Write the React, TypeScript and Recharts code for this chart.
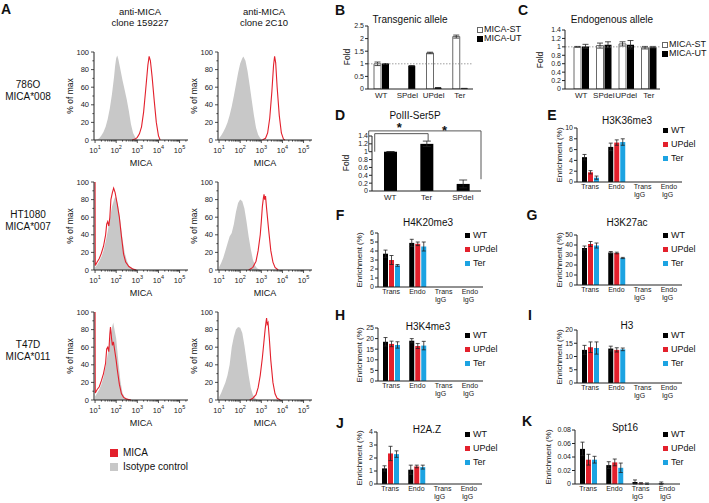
import React from 'react';
import {
  BarChart, ComposedChart, Bar, XAxis, YAxis, ErrorBar, Area, Line,
  ReferenceLine, ReferenceDot,
} from 'recharts';

const FONT = 'Arial, "Liberation Sans", Helvetica, sans-serif';
const RED = '#e3202c';
const BLUE = '#1ca3e2';
const GRAY = '#c8c8c8';

// ---------------- Panel A: flow histograms (x = log10 intensity, y = % of max) ----------------
const histoColumnTitles = [['anti-MICA', 'clone 159227'], ['anti-MICA', 'clone 2C10']];
const histoRowLabels = [['786O', 'MICA*008'], ['HT1080', 'MICA*007'], ['T47D', 'MICA*011']];
const histoLegend = ['MICA', 'Isotype control'];

const iso786O_159227 = [[1.0,0],[1.1,0.5],[1.2,2],[1.3,5],[1.4,9],[1.5,15],[1.6,24],[1.7,36],[1.8,52],[1.9,72],[1.95,84],[2.0,93],[2.05,96],[2.1,92],[2.2,80],[2.3,68],[2.4,57],[2.5,46],[2.6,33],[2.7,18],[2.8,8],[2.9,3],[3.0,0.5],[3.1,0]];
const mica786O_159227 = [[2.75,0],[2.9,1],[3.0,3],[3.1,7],[3.2,15],[3.3,32],[3.4,58],[3.5,85],[3.56,95],[3.62,90],[3.7,72],[3.8,45],[3.9,20],[4.0,5],[4.08,0]];
const iso786O_2C10 = [[1.0,2],[1.1,5],[1.2,9],[1.3,14],[1.4,20],[1.5,28],[1.6,38],[1.7,50],[1.8,63],[1.9,76],[2.0,87],[2.1,93],[2.15,95],[2.25,90],[2.35,78],[2.45,62],[2.55,45],[2.65,28],[2.75,14],[2.85,6],[2.95,2],[3.05,0]];
const mica786O_2C10 = [[3.05,0],[3.2,2],[3.3,8],[3.4,25],[3.5,55],[3.58,85],[3.63,95],[3.68,88],[3.75,60],[3.85,28],[3.95,8],[4.05,1],[4.12,0]];
const isoHT1080_159227 = [[1.0,3],[1.1,6],[1.2,10],[1.3,15],[1.4,22],[1.5,32],[1.6,44],[1.7,58],[1.8,72],[1.9,80],[1.95,83],[2.0,82],[2.1,72],[2.2,55],[2.3,35],[2.4,20],[2.5,11],[2.6,5],[2.8,1],[3.0,0]];
const micaHT1080_159227 = [[1.0,100],[1.01,5],[1.1,9],[1.2,13],[1.3,19],[1.4,27],[1.5,40],[1.55,52],[1.6,55],[1.65,50],[1.7,60],[1.75,80],[1.82,88],[1.88,93],[1.95,88],[2.05,75],[2.15,60],[2.25,38],[2.35,18],[2.45,9],[2.6,4],[2.8,1],[2.95,0]];
const isoHT1080_2C10 = [[1.0,3],[1.1,8],[1.2,14],[1.3,22],[1.4,30],[1.5,38],[1.6,42],[1.7,52],[1.8,66],[1.9,76],[2.0,80],[2.1,78],[2.2,70],[2.3,55],[2.4,38],[2.5,24],[2.6,12],[2.7,5],[2.8,2],[2.95,0]];
const micaHT1080_2C10 = [[2.4,0],[2.6,3],[2.75,10],[2.85,22],[2.95,40],[3.0,55],[3.05,72],[3.1,82],[3.13,86],[3.16,80],[3.2,84],[3.25,70],[3.35,45],[3.45,22],[3.55,9],[3.65,3],[3.8,0]];
const isoT47D_159227 = [[1.0,4],[1.1,8],[1.2,12],[1.3,18],[1.4,26],[1.5,38],[1.6,52],[1.7,68],[1.8,82],[1.86,88],[1.92,80],[2.0,70],[2.1,45],[2.2,22],[2.3,8],[2.4,3],[2.6,0.5],[2.8,0]];
const micaT47D_159227 = [[1.0,100],[1.01,8],[1.1,12],[1.2,15],[1.3,22],[1.4,30],[1.5,42],[1.55,58],[1.6,60],[1.65,55],[1.7,75],[1.73,83],[1.78,70],[1.82,62],[1.87,66],[1.92,58],[2.0,45],[2.05,35],[2.15,18],[2.25,7],[2.35,3],[2.5,1],[2.7,0]];
const isoT47D_2C10 = [[1.0,3],[1.1,8],[1.2,14],[1.3,20],[1.4,28],[1.5,40],[1.6,60],[1.7,72],[1.8,80],[1.9,83],[2.0,82],[2.1,76],[2.2,62],[2.3,45],[2.4,28],[2.5,14],[2.6,6],[2.7,2],[2.85,0]];
const micaT47D_2C10 = [[2.45,0],[2.6,2],[2.75,6],[2.85,14],[2.95,28],[3.05,48],[3.12,65],[3.18,80],[3.22,88],[3.25,93],[3.28,86],[3.32,88],[3.38,70],[3.45,45],[3.55,20],[3.65,7],[3.75,2],[3.9,0]];

const histoGrid = [
  [[iso786O_159227, mica786O_159227], [iso786O_2C10, mica786O_2C10]],
  [[isoHT1080_159227, micaHT1080_159227], [isoHT1080_2C10, micaHT1080_2C10]],
  [[isoT47D_159227, micaT47D_159227], [isoT47D_2C10, micaT47D_2C10]],
];
const pctTicks = [0, 10, 20, 30, 40, 50, 60, 70, 80, 90, 100];
const decades = [1, 2, 3, 4, 5];
const minorSteps = [2, 3, 4, 5, 6, 7, 8, 9];

// ---------------- Panel B / C / D ----------------
const alleleCats = ['WT', 'SPdel', 'UPdel', 'Ter'];
const alleleSeries = ['MICA-ST', 'MICA-UT'];
const transgenicST = [1.0, 0, 1.43, 2.08];
const transgenicSTErr = [0.07, 0, 0.03, 0.06];
const transgenicUT = [1.0, 0.92, 0.05, 0.02];
const transgenicUTErr = [0.01, 0.01, 0.005, 0.005];
const endogenousST = [1.0, 1.03, 1.07, 0.98];
const endogenousSTErr = [0.01, 0.06, 0.05, 0.03];
const endogenousUT = [1.01, 1.05, 1.05, 0.99];
const endogenousUTErr = [0.05, 0.07, 0.1, 0.02];
const foldTicksB = [0, 0.5, 1, 1.5, 2, 2.5];
const foldTicksC = [0, 0.2, 0.4, 0.6, 0.8, 1, 1.2, 1.4];

const polCats = ['WT', 'Ter', 'SPdel'];
const polVals = [1.0, 1.2, 0.18];
const polErr = [0.005, 0.07, 0.1];
// significance brackets in data units (x = category index, y = fold)
const polBracketInner = [[0.05, 1.0], [0.05, 1.46], [1.03, 1.46], [1.03, 1.27]];
const polBracketOuter = [[-0.06, 1.0], [-0.06, 1.53], [2.0, 1.53], [2.0, 0.3]];
const polStars = [[0.5, 1.62], [1.33, 1.56]];

// ---------------- ChIP panels E-K ----------------
const enrichCats = ['Trans', 'Endo', 'Trans IgG', 'Endo IgG'];
const enrichSeries = ['WT', 'UPdel', 'Ter'];
const enrichColors = ['#000000', RED, BLUE];

const h3k36me3WT = [4.6, 6.5, 0, 0];      const h3k36me3WTErr = [0.5, 0.7, 0, 0];
const h3k36me3UP = [1.8, 7.3, 0, 0];      const h3k36me3UPErr = [0.3, 0.5, 0, 0];
const h3k36me3Ter = [0.8, 7.4, 0, 0];     const h3k36me3TerErr = [0.3, 0.6, 0, 0];
const h4k20me3WT = [3.7, 4.9, 0, 0];      const h4k20me3WTErr = [0.4, 0.4, 0, 0];
const h4k20me3UP = [3.0, 4.8, 0, 0];      const h4k20me3UPErr = [0.5, 0.2, 0, 0];
const h4k20me3Ter = [2.4, 4.5, 0, 0];     const h4k20me3TerErr = [0.1, 0.5, 0, 0];
const h3k27acWT = [37, 32.5, 0, 0];       const h3k27acWTErr = [2, 1, 0, 0];
const h3k27acUP = [41, 32, 0, 0];         const h3k27acUPErr = [2.5, 0.8, 0, 0];
const h3k27acTer = [39.5, 27, 0, 0];      const h3k27acTerErr = [2.5, 0.6, 0, 0];
const h3k4me3WT = [18.5, 19, 0, 0];       const h3k4me3WTErr = [2, 1, 0, 0];
const h3k4me3UP = [17.5, 16.5, 0, 0];     const h3k4me3UPErr = [1.3, 1.2, 0, 0];
const h3k4me3Ter = [17, 16.7, 0, 0];      const h3k4me3TerErr = [1.5, 2, 0, 0];
const h3WT = [12.5, 13, 0, 0];            const h3WTErr = [1.7, 0.9, 0, 0];
const h3UP = [13.5, 12.5, 0, 0];          const h3UPErr = [2, 0.8, 0, 0];
const h3Ter = [13.2, 12.7, 0, 0];         const h3TerErr = [2.3, 0.5, 0, 0];
const h2azWT = [1.2, 1.1, 0, 0];          const h2azWTErr = [0.2, 0.35, 0, 0];
const h2azUP = [2.35, 1.35, 0, 0];        const h2azUPErr = [0.55, 0.1, 0, 0];
const h2azTer = [2.3, 1.3, 0, 0];         const h2azTerErr = [0.25, 0.15, 0, 0];
const spt16WT = [0.052, 0.028, 0.003, 0.001];  const spt16WTErr = [0.01, 0.005, 0.003, 0.002];
const spt16UP = [0.036, 0.032, 0.001, 0];      const spt16UPErr = [0.008, 0.005, 0.001, 0];
const spt16Ter = [0.036, 0.024, 0.0005, 0];    const spt16TerErr = [0.005, 0.007, 0.001, 0];

// ---------------- helpers ----------------
function T({ x, y, s = 9, a = 'middle', b = false, r = false, children }: any) {
  const tx = a === 'middle' ? '-50%' : a === 'end' ? '-100%' : '0';
  return (
    <div style={{
      position: 'absolute', left: x, top: y,
      transform: `translate(${r ? '-50%' : tx},-50%)${r ? ' rotate(-90deg)' : ''}`,
      fontSize: s, fontWeight: b ? 'bold' : 'normal', whiteSpace: 'nowrap', lineHeight: 1,
      color: '#111', fontFamily: FONT,
    }}>{children}</div>
  );
}

function LogTick(p: any) {
  const { x, y, payload } = p;
  const v = payload.value;
  const major = Math.abs(v - Math.round(v)) < 1e-6;
  return (
    <g>
      <line x1={x} x2={x} y1={y} y2={y + (major ? 3 : 1.6)} stroke="#222" strokeWidth={0.8} />
      {major && (
        <text x={x} y={y + 12.5} textAnchor="middle" fontSize={7.5} fontFamily={FONT} fill="#222">
          10<tspan dy={-3.5} fontSize={5.5}>{Math.round(v)}</tspan>
        </text>
      )}
    </g>
  );
}

function PctTick(p: any) {
  const { x, y, payload } = p;
  const v = payload.value;
  const major = v % 20 === 0;
  return (
    <g>
      <line x1={x} x2={x - (major ? 3 : 1.6)} y1={y} y2={y} stroke="#222" strokeWidth={0.8} />
      {major && (
        <text x={x - 5} y={y + 2.5} textAnchor="end" fontSize={7.5} fontFamily={FONT} fill="#222">{v}</text>
      )}
    </g>
  );
}

function CatTick(p: any) {
  const { x, y, payload, fs = 7, dy = 8 } = p;
  const parts = String(payload.value).split(' ');
  const w0 = parts[0].length * fs * 0.5;
  return (
    <g>
      <text x={x} y={y + dy} textAnchor="middle" fontSize={fs} fontFamily={FONT} fill="#222">{parts[0]}</text>
      {parts[1] && (
        <text x={x - w0 / 2} y={y + dy + 8} textAnchor="start" fontSize={fs} fontFamily={FONT} fill="#222">{parts[1]}</text>
      )}
    </g>
  );
}

const pts = (a: number[][]) => a.map(([x, y]) => ({ x, y }));

function Histo({ left, top, gray, red }: any) {
  const yw = 32, mt = 4, xh = 16, mr = 4, W = 94, H = 88;
  const logTicks: number[] = [];
  decades.forEach((d) => {
    logTicks.push(d);
    minorSteps.forEach((k) => { const t = d + Math.log10(k); if (t <= 5.4) logTicks.push(t); });
  });
  return (
    <div style={{ position: 'absolute', left: left - yw, top: top - mt }}>
      <ComposedChart width={W + yw + mr} height={H + mt + xh} margin={{ top: mt, right: mr, bottom: 0, left: 0 }}>
        <XAxis type="number" dataKey="x" domain={[0.95, 5.4]} ticks={logTicks} interval={0} allowDataOverflow
          tick={(pp: any) => <LogTick {...pp} />} tickLine={false} tickSize={0} tickMargin={0} height={xh}
          axisLine={{ stroke: '#222' }} />
        <YAxis type="number" domain={[0, 100]} ticks={pctTicks} interval={0}
          tick={(pp: any) => <PctTick {...pp} />} tickLine={false} tickSize={0} tickMargin={0} width={yw}
          axisLine={{ stroke: '#222' }} />
        <Area data={pts(gray)} dataKey="y" type="linear" stroke="none" fill={GRAY} fillOpacity={1} isAnimationActive={false} />
        <Line data={pts(red)} dataKey="y" type="linear" stroke={RED} strokeWidth={1.1} dot={false} isAnimationActive={false} />
      </ComposedChart>
    </div>
  );
}

function AllelePanel({ plotL, plotR, plotT, plotB, st, stE, ut, utE, ticks, padL = 0 }: any) {
  const yw = 26, mt = 4, xh = 16, mr = 2;
  const data = alleleCats.map((c, i) => ({ cat: c, st: st[i], stE: stE[i], ut: ut[i], utE: utE[i] }));
  const yMax = ticks[ticks.length - 1];
  return (
    <div style={{ position: 'absolute', left: plotL - yw, top: plotT - mt }}>
      <BarChart width={plotR - plotL + yw + mr} height={plotB - plotT + mt + xh} data={data}
        margin={{ top: mt, right: mr, bottom: 0, left: 0 }} barGap={1} barCategoryGap="10%">
        <XAxis dataKey="cat" height={xh} interval={0} padding={{ left: padL, right: 0 }}
          tick={(pp: any) => <CatTick {...pp} fs={8} dy={9} />} tickLine={false} tickSize={0} tickMargin={0}
          axisLine={{ stroke: '#222' }} />
        <YAxis width={yw} domain={[0, yMax]} ticks={ticks} interval={0} allowDataOverflow
          tick={{ fontSize: 7, fill: '#222', fontFamily: FONT }} tickSize={3} tickMargin={1}
          tickFormatter={(v: number) => String(v)}
          axisLine={{ stroke: '#222' }} tickLine={{ stroke: '#222' }} />
        <Bar dataKey="st" fill="#ffffff" stroke="#444" strokeWidth={0.8} barSize={7} isAnimationActive={false}>
          <ErrorBar dataKey="stE" width={3} stroke="#222" strokeWidth={0.8} />
        </Bar>
        <Bar dataKey="ut" fill="#000" barSize={7} isAnimationActive={false}>
          <ErrorBar dataKey="utE" width={3} stroke="#222" strokeWidth={0.8} />
        </Bar>
        <ReferenceLine y={1} stroke="#888" strokeDasharray="1.5 1.5" strokeWidth={0.8} />
      </BarChart>
    </div>
  );
}

function AlleleLegend({ x, y }: any) {
  return (
    <>
      {alleleSeries.map((s, i) => (
        <React.Fragment key={s}>
          <div style={{
            position: 'absolute', left: x, top: y + i * 9 - 2.5, width: 4, height: 4,
            border: i === 0 ? '1px solid #666' : '1px solid #000', background: i === 0 ? '#fff' : '#000',
          }} />
          <T x={x + 7} y={y + i * 9} s={9} a="start">{s}</T>
        </React.Fragment>
      ))}
    </>
  );
}

function PolPanel() {
  const plotL = 372, plotR = 481, plotT = 136, plotB = 191;
  const yw = 26, mt = 26, xh = 16, mr = 2;
  const data = polCats.map((c, i) => ({ cat: c, v: polVals[i], e: polErr[i] }));
  const seg = (a: number[][], i: number) => [{ x: a[i][0], y: a[i][1] }, { x: a[i + 1][0], y: a[i + 1][1] }];
  return (
    <div style={{ position: 'absolute', left: plotL - yw, top: plotT - mt }}>
      <BarChart width={plotR - plotL + yw + mr} height={plotB - plotT + mt + xh} data={data}
        margin={{ top: mt, right: mr, bottom: 0, left: 0 }}>
        <XAxis xAxisId="cat" dataKey="cat" height={xh} interval={0}
          tick={(pp: any) => <CatTick {...pp} fs={8} dy={9} />} tickLine={false} tickSize={0} tickMargin={0}
          axisLine={{ stroke: '#222' }} />
        <XAxis xAxisId="n" type="number" domain={[-0.5, 2.5]} hide />
        <YAxis width={yw} domain={[0, 1.4]} ticks={foldTicksC} interval={0} allowDataOverflow
          tick={{ fontSize: 7, fill: '#222', fontFamily: FONT }} tickSize={3} tickMargin={1}
          tickFormatter={(v: number) => String(v)}
          axisLine={{ stroke: '#222' }} tickLine={{ stroke: '#222' }} />
        <Bar xAxisId="cat" dataKey="v" fill="#000" barSize={13} isAnimationActive={false}>
          <ErrorBar dataKey="e" width={4} stroke="#222" strokeWidth={0.8} />
        </Bar>
        {[0, 1, 2].map((i) => (
          <ReferenceLine key={'in' + i} xAxisId="n" segment={seg(polBracketInner, i)} stroke="#444" strokeWidth={0.9} ifOverflow="visible" />
        ))}
        {[0, 1, 2].map((i) => (
          <ReferenceLine key={'out' + i} xAxisId="n" segment={seg(polBracketOuter, i)} stroke="#444" strokeWidth={0.9} ifOverflow="visible" />
        ))}
        {polStars.map((s, i) => (
          <ReferenceDot key={'st' + i} xAxisId="n" x={s[0]} y={s[1]} r={1} ifOverflow="visible"
            shape={(pp: any) => (
              <text x={pp.cx} y={pp.cy + 5} textAnchor="middle" fontSize={13} fontWeight="bold" fontFamily={FONT} fill="#111">*</text>
            )} />
        ))}
      </BarChart>
    </div>
  );
}

function EnrichPanel(p: any) {
  const yw = 26, mt = 4, xh = 22, mr = 2;
  const data = enrichCats.map((c, i) => ({
    cat: c, WT: p.wt[i], WTe: p.wtE[i], UPdel: p.up[i], UPdele: p.upE[i], Ter: p.ter[i], Tere: p.terE[i],
  }));
  const errKeys = ['WTe', 'UPdele', 'Tere'];
  const yMax = p.ticks[p.ticks.length - 1];
  return (
    <>
      <div style={{ position: 'absolute', left: p.plotL - yw, top: p.plotT - mt }}>
        <BarChart width={p.plotR - p.plotL + yw + mr} height={p.plotB - p.plotT + mt + xh} data={data}
          margin={{ top: mt, right: mr, bottom: 0, left: 0 }} barGap={1} barCategoryGap="10%">
          <XAxis dataKey="cat" height={xh} interval={0}
            tick={(pp: any) => <CatTick {...pp} fs={7} dy={7} />} tickLine={false} tickSize={0} tickMargin={0}
            axisLine={{ stroke: '#222' }} />
          <YAxis width={yw} domain={[0, yMax]} ticks={p.ticks} interval={0} allowDataOverflow
            tick={{ fontSize: 7, fill: '#222', fontFamily: FONT }} tickSize={3} tickMargin={1}
            tickFormatter={(v: number) => String(v)}
            axisLine={{ stroke: '#222' }} tickLine={{ stroke: '#222' }} />
          {enrichSeries.map((s, k) => (
            <Bar key={s} dataKey={s} fill={enrichColors[k]} barSize={5} isAnimationActive={false}>
              <ErrorBar dataKey={errKeys[k]} width={2} stroke="#222" strokeWidth={0.8} />
            </Bar>
          ))}
        </BarChart>
      </div>
      <T x={p.plotL + 50} y={p.titleY} s={10}>{p.title}</T>
      <T x={p.letterX} y={p.letterY} s={14} b>{p.letter}</T>
      <T x={p.ylabelX} y={(p.plotT + p.plotB) / 2} s={8} r>Enrichment (%)</T>
      {enrichSeries.map((s, k) => (
        <React.Fragment key={s}>
          <div style={{ position: 'absolute', left: p.legendX, top: p.legendY + k * 14 - 2.5, width: 5, height: 5, background: enrichColors[k] }} />
          <T x={p.legendX + 8} y={p.legendY + k * 14} s={9} a="start">{s}</T>
        </React.Fragment>
      ))}
    </>
  );
}

const colLeft = [94, 218];
const rowTop = [52, 182, 312];

export default function App() {
  return (
    <div style={{ position: 'absolute', left: 0, top: 0, width: 709, height: 503, background: '#fff', fontFamily: FONT, overflow: 'hidden' }}>
      {/* Panel A */}
      <T x={6} y={9} s={14} b>A</T>
      {histoColumnTitles.map((t, c) => (
        <React.Fragment key={'ct' + c}>
          <T x={colLeft[c] + 46} y={12} s={9.5}>{t[0]}</T>
          <T x={colLeft[c] + 46} y={23} s={9.5}>{t[1]}</T>
        </React.Fragment>
      ))}
      {histoRowLabels.map((rl, r) => (
        <React.Fragment key={'rl' + r}>
          <T x={28} y={rowTop[r] + 33} s={10}>{rl[0]}</T>
          <T x={28} y={rowTop[r] + 45} s={10}>{rl[1]}</T>
        </React.Fragment>
      ))}
      {histoGrid.map((row, r) => row.map((cell, c) => (
        <React.Fragment key={`h${r}${c}`}>
          <Histo left={colLeft[c]} top={rowTop[r]} gray={cell[0]} red={cell[1]} />
          <T x={colLeft[c] - 24} y={rowTop[r] + 44} s={8.5} r>% of max</T>
          <T x={colLeft[c] + 47} y={rowTop[r] + 111} s={9}>MICA</T>
        </React.Fragment>
      )))}
      <div style={{ position: 'absolute', left: 110, top: 449, width: 8, height: 8, background: RED }} />
      <T x={123} y={453} s={10} a="start">{histoLegend[0]}</T>
      <div style={{ position: 'absolute', left: 110, top: 463, width: 8, height: 8, background: GRAY }} />
      <T x={123} y={467} s={10} a="start">{histoLegend[1]}</T>

      {/* Panel B */}
      <T x={340} y={10} s={14} b>B</T>
      <T x={410} y={20} s={10}>Transgenic allele</T>
      <T x={347} y={57} s={8.5} r>Fold</T>
      <AllelePanel plotL={368} plotR={473} plotT={26} plotB={89} st={transgenicST} stE={transgenicSTErr}
        ut={transgenicUT} utE={transgenicUTErr} ticks={foldTicksB} />
      <AlleleLegend x={477} y={29} />

      {/* Panel C */}
      <T x={523} y={10} s={14} b>C</T>
      <T x={612} y={20} s={10}>Endogenous allele</T>
      <T x={540} y={60} s={8.5} r>Fold</T>
      <AllelePanel plotL={565} plotR={660} plotT={30} plotB={89} st={endogenousST} stE={endogenousSTErr}
        ut={endogenousUT} utE={endogenousUTErr} ticks={foldTicksC} padL={5} />
      <AlleleLegend x={662} y={44} />

      {/* Panel D */}
      <T x={340} y={115} s={14} b>D</T>
      <T x={415} y={116} s={10}>PolII-Ser5P</T>
      <T x={346} y={163} s={8.5} r>Fold</T>
      <PolPanel />

      {/* Panels E-K */}
      <EnrichPanel plotL={577} plotR={682} plotT={128} plotB={182} ticks={[0, 2, 4, 6, 8, 10]}
        title="H3K36me3" titleY={121} letter="E" letterX={552} letterY={115} legendX={663} legendY={130} ylabelX={560}
        wt={h3k36me3WT} wtE={h3k36me3WTErr} up={h3k36me3UP} upE={h3k36me3UPErr} ter={h3k36me3Ter} terE={h3k36me3TerErr} />
      <EnrichPanel plotL={378} plotR={483} plotT={233} plotB={287} ticks={[0, 1, 2, 3, 4, 5, 6]}
        title="H4K20me3" titleY={223} letter="F" letterX={340} letterY={215} legendX={465} legendY={235} ylabelX={360}
        wt={h4k20me3WT} wtE={h4k20me3WTErr} up={h4k20me3UP} upE={h4k20me3UPErr} ter={h4k20me3Ter} terE={h4k20me3TerErr} />
      <EnrichPanel plotL={577} plotR={682} plotT={235} plotB={285} ticks={[0, 10, 20, 30, 40, 50]}
        title="H3K27ac" titleY={223} letter="G" letterX={532} letterY={215} legendX={663} legendY={235} ylabelX={560}
        wt={h3k27acWT} wtE={h3k27acWTErr} up={h3k27acUP} upE={h3k27acUPErr} ter={h3k27acTer} terE={h3k27acTerErr} />
      <EnrichPanel plotL={378} plotR={483} plotT={328} plotB={381} ticks={[0, 5, 10, 15, 20, 25]}
        title="H3K4me3" titleY={327} letter="H" letterX={340} letterY={315} legendX={465} legendY={335} ylabelX={360}
        wt={h3k4me3WT} wtE={h3k4me3WTErr} up={h3k4me3UP} upE={h3k4me3UPErr} ter={h3k4me3Ter} terE={h3k4me3TerErr} />
      <EnrichPanel plotL={577} plotR={682} plotT={330} plotB={383} ticks={[0, 5, 10, 15, 20]}
        title="H3" titleY={326} letter="I" letterX={530} letterY={315} legendX={663} legendY={335} ylabelX={560}
        wt={h3WT} wtE={h3WTErr} up={h3UP} upE={h3UPErr} ter={h3Ter} terE={h3TerErr} />
      <EnrichPanel plotL={377} plotR={482} plotT={432} plotB={484} ticks={[0, 1, 2, 3, 4]}
        title="H2A.Z" titleY={430} letter="J" letterX={340} letterY={423} legendX={465} legendY={434} ylabelX={360}
        wt={h2azWT} wtE={h2azWTErr} up={h2azUP} upE={h2azUPErr} ter={h2azTer} terE={h2azTerErr} />
      <EnrichPanel plotL={575} plotR={680} plotT={430} plotB={484} ticks={[0, 0.02, 0.04, 0.06, 0.08]}
        title="Spt16" titleY={428} letter="K" letterX={527} letterY={421} legendX={663} legendY={434} ylabelX={549}
        wt={spt16WT} wtE={spt16WTErr} up={spt16UP} upE={spt16UPErr} ter={spt16Ter} terE={spt16TerErr} />
    </div>
  );
}
